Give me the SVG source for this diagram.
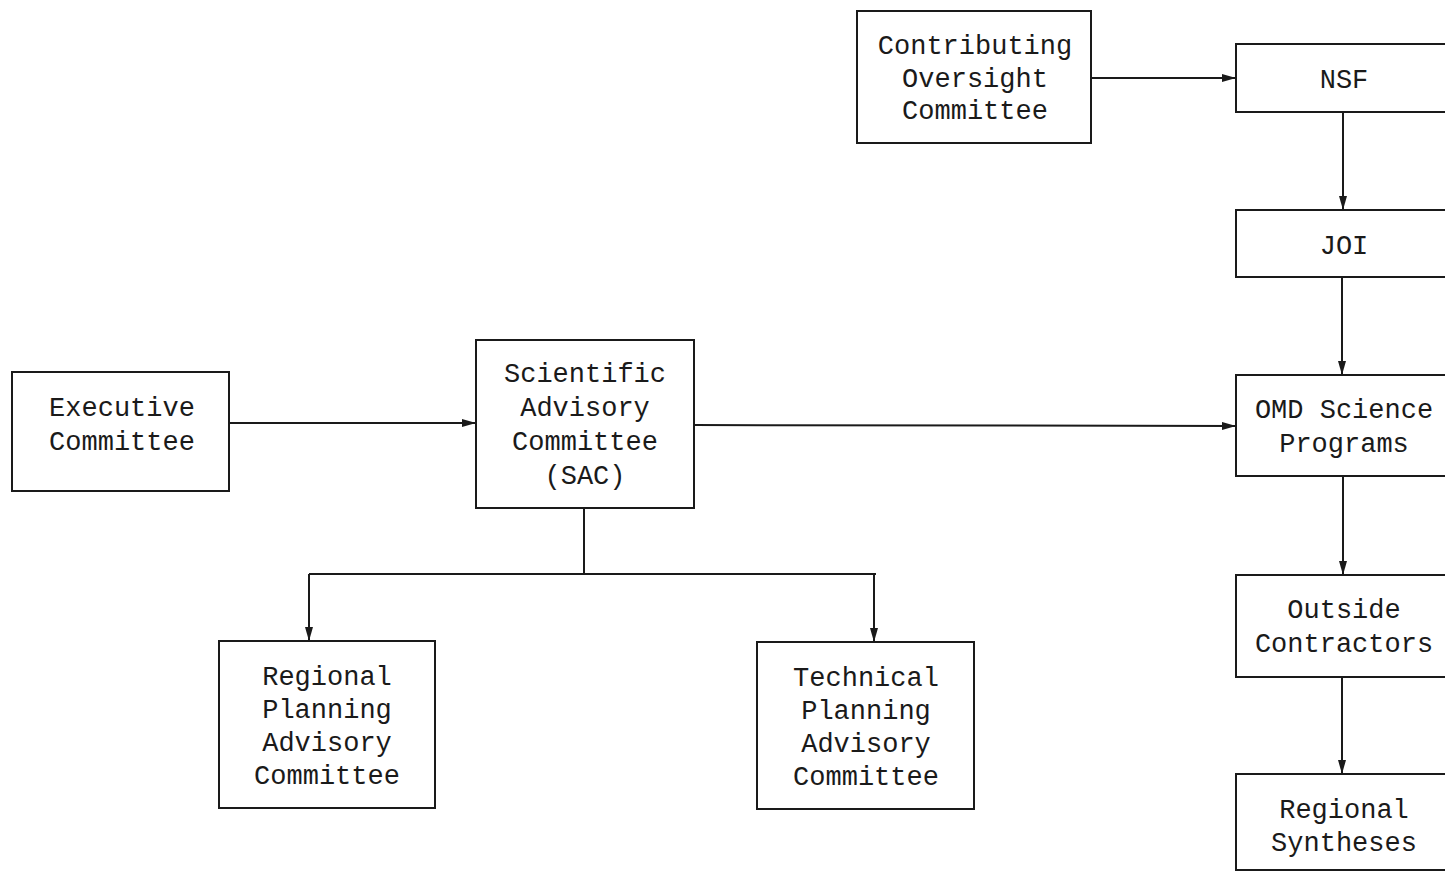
<svg xmlns="http://www.w3.org/2000/svg" width="1445" height="873" viewBox="0 0 1445 873">
<style>
.box{fill:none;stroke:#1a1a1a;stroke-width:2}
.t{font-family:"Liberation Mono","DejaVu Sans Mono",monospace;font-size:27px;fill:#1a1a1a;text-anchor:middle}
.c{fill:none;stroke:#1a1a1a;stroke-width:2}
</style>
<defs>
<marker id="ah" viewBox="0 0 14 8" refX="14" refY="4" markerWidth="14" markerHeight="8" markerUnits="userSpaceOnUse" orient="auto">
<path d="M0,0 L14,4 L0,8 Z" fill="#1a1a1a"/>
</marker>
</defs>
<rect width="1445" height="873" fill="#ffffff"/>
<g id="connectors">
<line class="c" x1="1091" y1="78" x2="1236" y2="78" marker-end="url(#ah)"/>
<line class="c" x1="1343" y1="112" x2="1343" y2="210" marker-end="url(#ah)"/>
<line class="c" x1="1342" y1="277" x2="1342" y2="375" marker-end="url(#ah)"/>
<line class="c" x1="1343" y1="476" x2="1343" y2="575" marker-end="url(#ah)"/>
<line class="c" x1="1342" y1="677" x2="1342" y2="774" marker-end="url(#ah)"/>
<line class="c" x1="229" y1="423" x2="476" y2="423" marker-end="url(#ah)"/>
<line class="c" x1="694" y1="425" x2="1236" y2="426" marker-end="url(#ah)"/>
<polyline class="c" points="584,508 584,574"/>
<polyline class="c" points="309,574 876,574"/>
<line class="c" x1="309" y1="574" x2="309" y2="641" marker-end="url(#ah)"/>
<line class="c" x1="874" y1="574" x2="874" y2="642" marker-end="url(#ah)"/>
</g>
<g id="contributing">
<rect class="box" x="857" y="11" width="234" height="132"/>
<text class="t" x="975" y="54">Contributing</text>
<text class="t" x="975" y="87">Oversight</text>
<text class="t" x="975" y="119">Committee</text>
</g>
<g id="nsf">
<rect class="box" x="1236" y="44" width="215" height="68"/>
<text class="t" x="1344" y="88">NSF</text>
</g>
<g id="joi">
<rect class="box" x="1236" y="210" width="215" height="67"/>
<text class="t" x="1344" y="254">JOI</text>
</g>
<g id="omd">
<rect class="box" x="1236" y="375" width="215" height="101"/>
<text class="t" x="1344" y="418">OMD Science</text>
<text class="t" x="1344" y="452">Programs</text>
</g>
<g id="outside">
<rect class="box" x="1236" y="575" width="215" height="102"/>
<text class="t" x="1344" y="618">Outside</text>
<text class="t" x="1344" y="652">Contractors</text>
</g>
<g id="synth">
<rect class="box" x="1236" y="774" width="215" height="96"/>
<text class="t" x="1344" y="818">Regional</text>
<text class="t" x="1344" y="851">Syntheses</text>
</g>
<g id="executive">
<rect class="box" x="12" y="372" width="217" height="119"/>
<text class="t" x="122" y="416">Executive</text>
<text class="t" x="122" y="450">Committee</text>
</g>
<g id="sac">
<rect class="box" x="476" y="340" width="218" height="168"/>
<text class="t" x="585" y="382">Scientific</text>
<text class="t" x="585" y="416">Advisory</text>
<text class="t" x="585" y="450">Committee</text>
<text class="t" x="585" y="484">(SAC)</text>
</g>
<g id="regional">
<rect class="box" x="219" y="641" width="216" height="167"/>
<text class="t" x="327" y="685">Regional</text>
<text class="t" x="327" y="718">Planning</text>
<text class="t" x="327" y="751">Advisory</text>
<text class="t" x="327" y="784">Committee</text>
</g>
<g id="technical">
<rect class="box" x="757" y="642" width="217" height="167"/>
<text class="t" x="866" y="686">Technical</text>
<text class="t" x="866" y="719">Planning</text>
<text class="t" x="866" y="752">Advisory</text>
<text class="t" x="866" y="785">Committee</text>
</g>
</svg>
